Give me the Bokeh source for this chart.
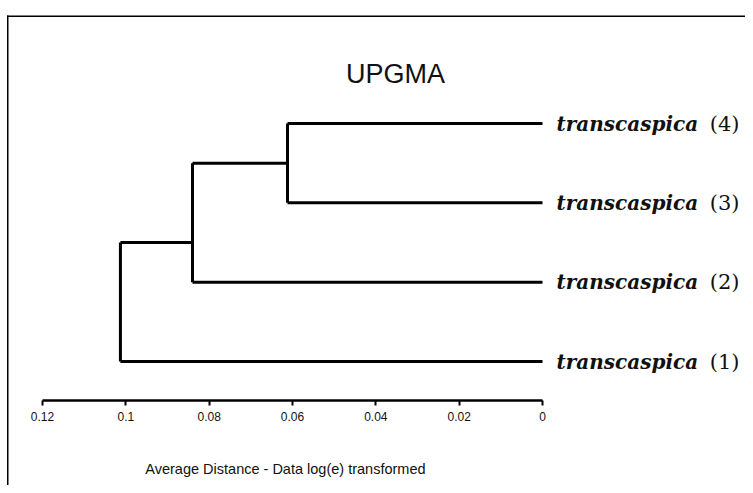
from bokeh.plotting import figure
from bokeh.models import Range1d, FixedTicker, BoxAnnotation, Label, ColumnDataSource
from bokeh.core.properties import value
from bokeh.embed import file_html
from bokeh.resources import INLINE

# ---- data ----
leaf_names = ["transcaspica", "transcaspica", "transcaspica", "transcaspica"]
leaf_ids = ["(1)", "(2)", "(3)", "(4)"]
leaf_pos = [1, 2, 3, 4]
# merges (UPGMA): child a, child b, distance, drawn vertical position of node
merge_a = [3, 4, 5]
merge_b = [2, 1, 0]
merge_h = [0.0612, 0.0840, 0.1013]
merge_y = [3.5, 2.5, 1.75]
tick_values = [0.12, 0.10, 0.08, 0.06, 0.04, 0.02, 0.0]
tick_labels = ["0.12", "0.1", "0.08", "0.06", "0.04", "0.02", "0"]
title_text = "UPGMA"
axis_title = "Average Distance - Data log(e) transformed"

# ---- build dendrogram segments from merges ----
node_h = {i: 0.0 for i in range(len(leaf_pos))}
node_y = {i: float(leaf_pos[i]) for i in range(len(leaf_pos))}
hx0, hx1, hy = [], [], []
vx, vy0, vy1 = [], [], []
for k, (a, b, h, y) in enumerate(zip(merge_a, merge_b, merge_h, merge_y)):
    nid = len(leaf_pos) + k
    for c in (a, b):
        hx0.append(node_h[c]); hx1.append(h); hy.append(node_y[c])
    vx.append(h); vy0.append(min(node_y[a], node_y[b])); vy1.append(max(node_y[a], node_y[b]))
    node_h[nid] = h
    node_y[nid] = y

W, H = 745, 485
p = figure(width=W, height=H, output_backend="svg", toolbar_location=None,
           x_range=Range1d(0.13008, -0.04872), y_range=Range1d(-0.5631, 5.5507),
           y_axis_location=None, min_border_left=0, min_border_right=0,
           min_border_top=0, min_border_bottom=0)
p.grid.visible = False
p.outline_line_color = None
p.background_fill_color = "white"
p.border_fill_color = "white"

p.segment(x0=hx0, y0=hy, x1=hx1, y1=hy, line_color="black", line_width=3)
p.segment(x0=vx, y0=vy0, x1=vx, y1=vy1, line_color="black", line_width=3)

src = ColumnDataSource(dict(x=[0.0] * 4, y=leaf_pos, name=leaf_names, lid=leaf_ids))
p.text(x="x", y="y", text="name", source=src, x_offset=14, text_align="left",
       text_baseline="middle", text_font=value("DejaVu Serif"), text_font_style="bold italic",
       text_font_size="20px", text_color="#111111")
p.text(x="x", y="y", text="lid", source=src, x_offset=197, text_align="right",
       text_baseline="middle", text_font=value("DejaVu Serif"),
       text_font_size="21px", text_color="#111111")

p.add_layout(Label(x=0.03528, y=4.618, text=title_text, text_align="center",
                   text_baseline="middle", text_font="Liberation Sans",
                   text_font_size="27px", text_color="#111111"))

ax = p.xaxis[0]
ax.fixed_location = 0.5021
ax.bounds = (0.0, 0.12)
ax.ticker = FixedTicker(ticks=tick_values)
ax.major_label_overrides = dict(zip(tick_values, tick_labels))
ax.axis_line_width = 2.5
ax.axis_line_color = "black"
ax.major_tick_line_width = 2
ax.major_tick_line_color = "black"
ax.major_tick_out = 5
ax.major_tick_in = 0
ax.minor_tick_out = 0
ax.minor_tick_in = 0
ax.major_label_standoff = 6
ax.major_label_text_font = "Liberation Sans"
ax.major_label_text_font_size = "12px"
ax.major_label_text_color = "#111111"

p.add_layout(Label(x=0.0617, y=-0.3568, text=axis_title,
                   text_align="center", text_baseline="middle",
                   text_font="Liberation Sans", text_font_size="14.5px",
                   text_color="#111111"))

for top, bottom, left, right in [(15, 16.5, 6.5, W), (15, H, 6.5, 8)]:
    p.add_layout(BoxAnnotation(top=top, bottom=bottom, left=left, right=right,
                               top_units="canvas", bottom_units="canvas",
                               left_units="canvas", right_units="canvas",
                               fill_color="black", fill_alpha=1.0, line_color=None))

open("out.html", "w").write(file_html(p, INLINE))
